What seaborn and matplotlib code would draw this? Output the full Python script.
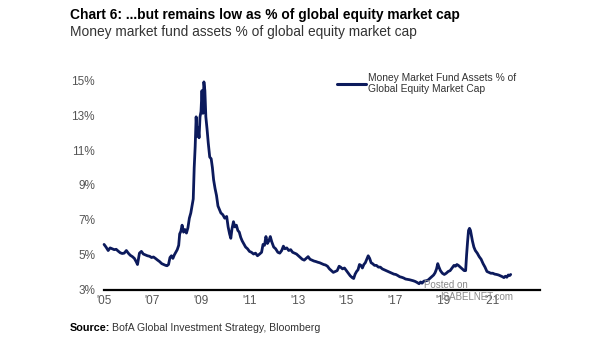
import matplotlib
matplotlib.use("Agg")
import matplotlib.pyplot as plt
import seaborn as sns
import pandas as pd
from matplotlib.lines import Line2D

# ---- data (decimal year, % of global equity market cap) ----
years = [
    2005.00, 2005.08, 2005.17, 2005.25, 2005.33, 2005.42, 2005.50, 2005.58, 2005.67, 2005.75,
    2005.83, 2005.92, 2006.00, 2006.08, 2006.17, 2006.25, 2006.33, 2006.38, 2006.46, 2006.54,
    2006.62, 2006.71, 2006.79, 2006.88, 2006.96, 2007.04, 2007.12, 2007.21, 2007.29, 2007.38,
    2007.46, 2007.54, 2007.60, 2007.66, 2007.72, 2007.78, 2007.84, 2007.90, 2007.96, 2008.02,
    2008.08, 2008.12, 2008.17, 2008.22, 2008.28, 2008.34, 2008.40, 2008.46, 2008.52, 2008.58,
    2008.64, 2008.68, 2008.72, 2008.76, 2008.80, 2008.84, 2008.88, 2008.92, 2008.96, 2009.00,
    2009.04, 2009.08, 2009.12, 2009.16, 2009.20, 2009.25, 2009.30, 2009.36, 2009.42, 2009.47,
    2009.52, 2009.58, 2009.64, 2009.70, 2009.76, 2009.82, 2009.90, 2009.98, 2010.06, 2010.12,
    2010.18, 2010.23, 2010.28, 2010.34, 2010.40, 2010.46, 2010.52, 2010.58, 2010.64, 2010.70,
    2010.76, 2010.84, 2010.92, 2011.00, 2011.08, 2011.17, 2011.25, 2011.33, 2011.42, 2011.50,
    2011.56, 2011.62, 2011.68, 2011.74, 2011.80, 2011.86, 2011.92, 2012.00, 2012.08, 2012.17,
    2012.25, 2012.33, 2012.40, 2012.46, 2012.54, 2012.62, 2012.70, 2012.78, 2012.86, 2012.94,
    2013.02, 2013.10, 2013.18, 2013.26, 2013.34, 2013.42, 2013.50, 2013.58, 2013.66, 2013.74,
    2013.82, 2013.90, 2013.98, 2014.06, 2014.14, 2014.22, 2014.30, 2014.38, 2014.46, 2014.54,
    2014.62, 2014.70, 2014.76, 2014.84, 2014.92, 2015.00, 2015.08, 2015.16, 2015.24, 2015.30,
    2015.36, 2015.42, 2015.48, 2015.54, 2015.60, 2015.66, 2015.72, 2015.78, 2015.84, 2015.90,
    2015.96, 2016.02, 2016.08, 2016.16, 2016.24, 2016.32, 2016.40, 2016.48, 2016.56, 2016.64,
    2016.72, 2016.80, 2016.88, 2016.96, 2017.04, 2017.12, 2017.20, 2017.28, 2017.36, 2017.44,
    2017.52, 2017.60, 2017.68, 2017.76, 2017.84, 2017.92, 2018.00, 2018.06, 2018.12, 2018.20,
    2018.28, 2018.36, 2018.44, 2018.52, 2018.60, 2018.66, 2018.72, 2018.77, 2018.82, 2018.88,
    2018.96, 2019.04, 2019.12, 2019.20, 2019.28, 2019.36, 2019.44, 2019.50, 2019.56, 2019.62,
    2019.70, 2019.78, 2019.86, 2019.92, 2019.96, 2020.00, 2020.04, 2020.08, 2020.12, 2020.16,
    2020.20, 2020.26, 2020.32, 2020.40, 2020.48, 2020.56, 2020.64, 2020.72, 2020.80, 2020.88,
    2020.96, 2021.04, 2021.12, 2021.20, 2021.28, 2021.36, 2021.44, 2021.50, 2021.56, 2021.62,
    2021.68, 2021.74, 2021.78,
]
mmf_pct = [
    5.60, 5.45, 5.25, 5.40, 5.35, 5.30, 5.32, 5.22, 5.12, 5.08,
    5.10, 5.25, 5.10, 4.98, 4.90, 4.80, 4.60, 4.45, 5.10, 5.20,
    5.05, 5.00, 4.95, 4.92, 4.85, 4.88, 4.80, 4.70, 4.62, 4.50,
    4.45, 4.40, 4.38, 4.45, 4.85, 4.95, 4.80, 5.00, 5.15, 5.30,
    5.55, 6.20, 6.35, 6.70, 6.30, 6.45, 6.25, 6.55, 7.10, 7.40,
    7.90, 8.20, 10.0, 11.2, 12.9, 11.8, 12.3, 11.7, 12.9, 13.2,
    14.4, 13.1, 14.9, 14.4, 12.9, 12.2, 11.4, 10.6, 10.5, 10.0,
    9.3, 8.8, 8.4, 7.8, 7.6, 7.4, 7.3, 7.1, 7.2, 6.6,
    6.2, 5.95, 6.5, 6.9, 6.6, 6.7, 6.4, 6.3, 6.0, 5.8,
    5.65, 5.45, 5.35, 5.20, 5.15, 5.05, 5.10, 4.95, 5.05, 5.15,
    5.60, 5.55, 6.05, 5.65, 5.80, 6.05, 5.75, 5.45, 5.35, 5.15,
    5.10, 5.25, 5.50, 5.35, 5.40, 5.25, 5.30, 5.15, 5.10, 5.05,
    4.95, 4.85, 4.75, 4.70, 4.80, 4.90, 4.75, 4.70, 4.65, 4.62,
    4.58, 4.55, 4.50, 4.45, 4.42, 4.35, 4.20, 4.10, 4.00, 4.05,
    4.10, 4.35, 4.30, 4.20, 4.25, 4.10, 3.95, 3.80, 3.70, 3.65,
    3.90, 4.05, 4.15, 4.45, 4.40, 4.25, 4.45, 4.55, 4.75, 4.95,
    4.80, 4.55, 4.50, 4.40, 4.40, 4.30, 4.30, 4.20, 4.15, 4.10,
    4.05, 4.00, 3.95, 3.90, 3.88, 3.82, 3.75, 3.72, 3.68, 3.62,
    3.60, 3.58, 3.55, 3.52, 3.48, 3.42, 3.35, 3.45, 3.38, 3.50,
    3.52, 3.55, 3.65, 3.75, 3.85, 3.98, 4.20, 4.50, 4.30, 4.10,
    3.95, 3.88, 3.95, 4.05, 4.10, 4.25, 4.40, 4.35, 4.45, 4.40,
    4.30, 4.20, 4.10, 4.10, 5.00, 5.75, 6.40, 6.52, 6.40, 6.10,
    5.80, 5.45, 5.25, 5.10, 4.90, 4.75, 4.50, 4.30, 4.05, 4.00,
    3.95, 3.95, 3.90, 3.88, 3.85, 3.80, 3.75, 3.70, 3.78, 3.72,
    3.85, 3.82, 3.88,
]
y_ticks = [3, 5, 7, 9, 11, 13, 15]
y_tick_labels = ["3%", "5%", "7%", "9%", "11%", "13%", "15%"]
x_ticks = [2005, 2007, 2009, 2011, 2013, 2015, 2017, 2019, 2021]
x_tick_labels = ["'05", "'07", "'09", "'11", "'13", "'15", "'17", "'19", "'21"]
series_name = "Money Market Fund Assets % of\nGlobal Equity Market Cap"

NAVY = "#0c1a5c"
GREY = "#555555"

sns.set_theme(style="white")
plt.rcParams["font.family"] = ["Liberation Sans", "DejaVu Sans"]

fig = plt.figure(figsize=(6.05, 3.41), dpi=100)
ax = fig.add_axes([0.172, 0.150, 0.721, 0.615])

df = pd.DataFrame({"year": years, "value": mmf_pct})
sns.lineplot(data=df, x="year", y="value", ax=ax, color=NAVY, linewidth=2.0,
             legend=False, clip_on=False)

ax.set_xlim(2005, 2023)
ax.set_ylim(3, 15)
ax.set_xticks(x_ticks)
ax.set_xticklabels(x_tick_labels)
ax.set_yticks(y_ticks)
ax.set_yticklabels(y_tick_labels)
ax.set_xlabel("")
ax.set_ylabel("")
ax.tick_params(axis="both", length=0, labelsize=8.5, colors=GREY)
ax.tick_params(axis="y", pad=6.5)
ax.tick_params(axis="x", pad=4)
for s in ["top", "right", "left"]:
    ax.spines[s].set_visible(False)
ax.spines["bottom"].set_color("black")
ax.spines["bottom"].set_linewidth(1.6)
ax.grid(False)

# legend
leg_handle = Line2D([0], [0], color=NAVY, linewidth=2.2)
ax.legend([leg_handle], [series_name], loc="upper left",
          bbox_to_anchor=(0.535, 1.035), frameon=False, fontsize=7.4,
          handlelength=2.8, handletextpad=0.15, labelcolor="#333333",
          borderaxespad=0, borderpad=0)

# titles
fig.text(0.116, 0.955, "Chart 6: ...but remains low as % of global equity market cap",
         fontsize=9.9, fontweight="bold", color="black", ha="left", va="center")
fig.text(0.116, 0.905, "Money market fund assets % of global equity market cap",
         fontsize=9.9, color="#333333", ha="left", va="center")

# source
fig.text(0.116, 0.038, "Source:", fontsize=7.8, fontweight="bold", color="black",
         ha="left", va="center")
fig.text(0.185, 0.038, "BofA Global Investment Strategy, Bloomberg", fontsize=7.6,
         color="#333333", ha="left", va="center")

# watermark
fig.text(0.700, 0.163, "Posted on", fontsize=7, color="#8a8a8a", ha="left", va="center")
fig.text(0.728, 0.128, "ISABELNET.com", fontsize=7, color="#8a8a8a", ha="left", va="center")

fig.savefig("out.png", dpi=100)
